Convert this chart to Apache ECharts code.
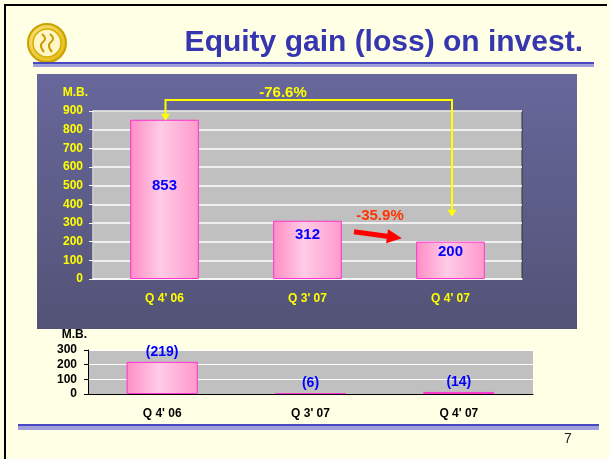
<!DOCTYPE html>
<html>
<head>
<meta charset="utf-8">
<script src="https://cdn.jsdelivr.net/npm/echarts@6/dist/echarts.min.js"></script>
<style>
  html, body { margin: 0; padding: 0; background: #FFFFE6; }
  #chart { width: 609px; height: 459px; }
</style>
</head>
<body>
<div id="chart"></div>
<script>
  // 数据
  const categories = ["Q 4' 06", "Q 3' 07", "Q 4' 07"];
  const gainValues = [853, 312, 200];
  const lossValues = [219, 6, 14];
  const yearChange = '-76.6%';
  const quarterChange = '-35.9%';
  const pageTitle = 'Equity gain (loss) on invest.';
  const pageNumber = '7';

  // 标签微调（样式，不是数据）
  const gainLabelOffsets = [[0, -14], [0, -15], [0, -8]];

  const FONT = '"Liberation Sans", Arial, sans-serif';
  const barFill = {
    type: 'linear', x: 0, y: 0, x2: 1, y2: 0,
    colorStops: [
      { offset: 0, color: '#FF8CC6' },
      { offset: 0.45, color: '#FFCCE6' },
      { offset: 1, color: '#FF99CC' }
    ]
  };

  var chart = echarts.init(document.getElementById('chart'));
  chart.setOption({
    backgroundColor: '#FFFFE6',
    animation: false,
    textStyle: { fontFamily: FONT },
    grid: [{
      left: 93, right: 87, top: 111, bottom: 180,
      show: true, backgroundColor: '#C0C0C0', borderColor: '#333333', borderWidth: 1
    }, {
      left: 88, right: 76, top: 350, bottom: 65,
      show: true, backgroundColor: '#C0C0C0', borderWidth: 0
    }],
    xAxis: [{
      gridIndex: 0, type: 'category', data: categories,
      axisLine: { lineStyle: { color: '#FFFFFF', width: 1.5 } },
      axisTick: { length: 4, lineStyle: { color: '#FFFFFF' } },
      axisLabel: { color: '#FFFF00', fontWeight: 'bold', fontSize: 12, margin: 14 }
    }, {
      gridIndex: 1, type: 'category', data: categories,
      axisLine: { lineStyle: { color: '#000000', width: 1 } },
      axisTick: { length: 4, lineStyle: { color: '#000000' } },
      axisLabel: { color: '#000000', fontWeight: 'bold', fontSize: 12, margin: 14 }
    }],
    yAxis: [{
      gridIndex: 0, type: 'value', min: 0, max: 900, interval: 100,
      name: 'M.B.', nameLocation: 'end', nameGap: 12,
      nameTextStyle: { color: '#FFFF00', fontWeight: 'bold', fontSize: 12, align: 'right', padding: [0, 5, 0, 0] },
      axisLine: { show: true, lineStyle: { color: '#E6E6E6', width: 1.5 } },
      axisTick: { show: true, length: 4, lineStyle: { color: '#FFFFFF' } },
      axisLabel: { color: '#FFFF00', fontWeight: 'bold', fontSize: 12, margin: 10 },
      splitLine: { lineStyle: { color: '#FFFFFF', width: 1.5 } }
    }, {
      gridIndex: 1, type: 'value', min: 0, max: 300, interval: 100,
      name: 'M.B.', nameLocation: 'end', nameGap: 9,
      nameTextStyle: { color: '#000000', fontWeight: 'bold', fontSize: 12, align: 'right', padding: [0, 1, 0, 0] },
      axisLine: { show: true, lineStyle: { color: '#000000', width: 1 } },
      axisTick: { show: true, length: 4, lineStyle: { color: '#000000' } },
      axisLabel: { color: '#000000', fontWeight: 'bold', fontSize: 12, margin: 11 },
      splitLine: { lineStyle: { color: '#FFFFFF', width: 1 } }
    }],
    series: [{
      type: 'bar', xAxisIndex: 0, yAxisIndex: 0,
      barWidth: '48%',
      data: gainValues.map((v, i) => ({ value: v, label: { offset: gainLabelOffsets[i] } })),
      itemStyle: { color: barFill, borderColor: '#FF33CC', borderWidth: 1 },
      label: { show: true, position: 'inside', color: '#0000FF', fontWeight: 'bold', fontSize: 15 }
    }, {
      type: 'bar', xAxisIndex: 1, yAxisIndex: 1,
      barWidth: '48%',
      data: lossValues,
      itemStyle: { color: barFill, borderColor: '#FF33CC', borderWidth: 1 },
      label: {
        show: true, position: 'top', distance: 3,
        color: '#0000FF', fontWeight: 'bold', fontSize: 14,
        formatter: p => '(' + p.value + ')'
      }
    }]
  });

  // 注释位置从坐标轴换算
  const toPx = (c, v) => chart.convertToPixel({ gridIndex: 0 }, [c, v]);
  const top0 = toPx(0, gainValues[0]);
  const top1 = toPx(1, gainValues[1]);
  const top2 = toPx(2, gainValues[2]);
  const gridTop = toPx(0, 900)[1];
  const lineY = gridTop - 11;
  const lx = top0[0] + 1, rx = top2[0] + 1.5;
  const leftTip = top0[1] + 1, rightTip = top2[1] - 25;

  const tail = [top1[0] + 46.5, toPx(1, 253)[1]];
  const tip = [top2[0] - 48.6, toPx(2, 218)[1]];
  function blockArrow(a, b, shaft, headLen, headHalf) {
    const dx = b[0] - a[0], dy = b[1] - a[1];
    const len = Math.sqrt(dx * dx + dy * dy);
    const ux = dx / len, uy = dy / len, nx = -uy, ny = ux;
    const bx = b[0] - ux * headLen, by = b[1] - uy * headLen;
    return [
      [a[0] + nx * shaft, a[1] + ny * shaft],
      [bx + nx * shaft, by + ny * shaft],
      [bx + nx * headHalf, by + ny * headHalf],
      b,
      [bx - nx * headHalf, by - ny * headHalf],
      [bx - nx * shaft, by - ny * shaft],
      [a[0] - nx * shaft, a[1] - ny * shaft]
    ];
  }

  const yellow = '#FFFF00';
  chart.setOption({
    graphic: [
      // 外框
      { type: 'rect', z: -5, shape: { x: 4, y: 4, width: 603, height: 2 }, style: { fill: '#000000' } },
      { type: 'rect', z: -5, shape: { x: 4, y: 4, width: 2, height: 455 }, style: { fill: '#000000' } },
      // logo
      {
        type: 'circle', z: -5, shape: { cx: 47, cy: 43, r: 19 },
        style: {
          fill: { type: 'radial', x: 0.4, y: 0.4, r: 0.7, colorStops: [{ offset: 0, color: '#FFF2A0' }, { offset: 1, color: '#E0B400' }] },
          stroke: '#C9A100', lineWidth: 2
        }
      },
      { type: 'circle', z: -5, shape: { cx: 47, cy: 43, r: 14 }, style: { fill: '#FFF6C8', stroke: '#D6AE00', lineWidth: 1.5 } },
      { type: 'polyline', z: -5, shape: { points: [[42, 34], [45, 39], [41, 45], [44, 52]], smooth: 0.5 }, style: { stroke: '#C99A00', lineWidth: 2, fill: null } },
      { type: 'polyline', z: -5, shape: { points: [[50, 34], [53, 39], [49, 45], [52, 52]], smooth: 0.5 }, style: { stroke: '#C99A00', lineWidth: 2, fill: null } },
      // 标题
      {
        type: 'text', z: -5, x: 583, y: 42.6,
        style: { text: pageTitle, align: 'right', verticalAlign: 'middle', fontFamily: FONT, fontWeight: 'bold', fontSize: 30, fill: '#3636B0' }
      },
      // 标题下双线
      { type: 'rect', z: -5, shape: { x: 33, y: 62, width: 561, height: 2 }, style: { fill: '#4848C0' } },
      { type: 'rect', z: -5, shape: { x: 33, y: 64, width: 561, height: 3 }, style: { fill: '#A0A0DC' } },
      // 紫色底板
      {
        type: 'rect', z: -5, shape: { x: 37, y: 74, width: 540, height: 255 },
        style: { fill: { type: 'linear', x: 0, y: 0, x2: 0, y2: 1, colorStops: [{ offset: 0, color: '#67679B' }, { offset: 1, color: '#535377' }] } }
      },
      // 页脚双线和页码
      { type: 'rect', z: -5, shape: { x: 18, y: 424, width: 581, height: 2 }, style: { fill: '#4848C0' } },
      { type: 'rect', z: -5, shape: { x: 18, y: 426, width: 581, height: 4 }, style: { fill: '#A0A0DC' } },
      {
        type: 'text', z: -5, x: 568, y: 439,
        style: { text: pageNumber, align: 'center', verticalAlign: 'middle', fontFamily: FONT, fontSize: 14, fill: '#222222' }
      },
      // 同比黄色箭头
      {
        type: 'polyline', z: 100,
        shape: { points: [[lx, leftTip - 7], [lx, lineY], [rx, lineY], [rx, rightTip - 7]] },
        style: { stroke: yellow, lineWidth: 2, fill: null }
      },
      { type: 'polygon', z: 100, shape: { points: [[lx - 4.5, leftTip - 7], [lx + 4.5, leftTip - 7], [lx, leftTip]] }, style: { fill: yellow } },
      { type: 'polygon', z: 100, shape: { points: [[rx - 4.5, rightTip - 7], [rx + 4.5, rightTip - 7], [rx, rightTip]] }, style: { fill: yellow } },
      {
        type: 'text', z: 100, x: lx + (rx - lx) * 0.41, y: lineY - 7,
        style: { text: yearChange, align: 'center', verticalAlign: 'middle', fontFamily: FONT, fontWeight: 'bold', fontSize: 15, fill: yellow }
      },
      // 环比红色箭头
      { type: 'polygon', z: 100, shape: { points: blockArrow(tail, tip, 2.6, 15, 7) }, style: { fill: '#FF0000' } },
      {
        type: 'text', z: 100, x: (tail[0] + tip[0]) / 2 + 2, y: tail[1] - 16,
        style: { text: quarterChange, align: 'center', verticalAlign: 'middle', fontFamily: FONT, fontWeight: 'bold', fontSize: 15, fill: '#FF3300' }
      }
    ]
  });
</script>
</body>
</html>
